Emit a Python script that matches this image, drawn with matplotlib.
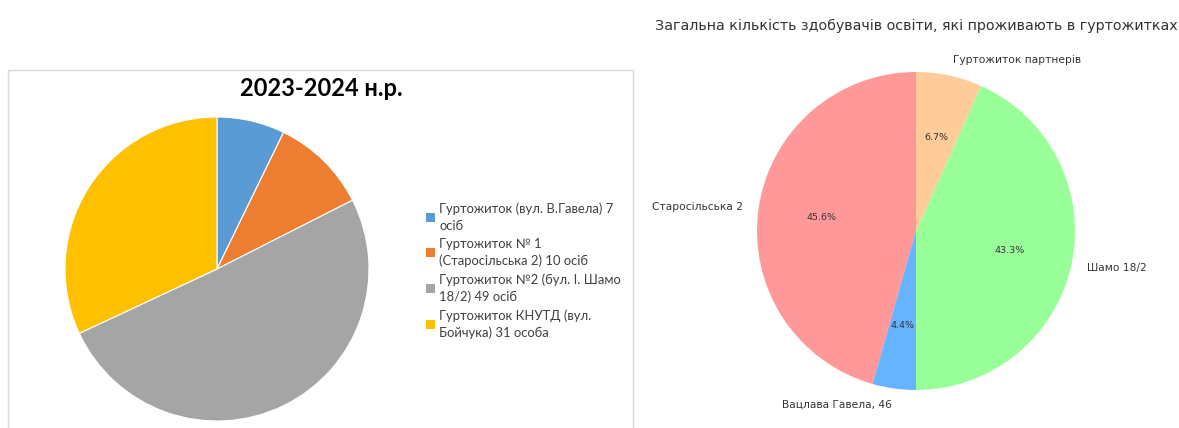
import matplotlib
matplotlib.use("Agg")
import matplotlib.pyplot as plt
from matplotlib.patches import Rectangle

# Left chart data (2023-2024)
left_title = "2023-2024 н.р."
left_labels = [
    ["Гуртожиток (вул. В.Гавела) 7", "осіб"],
    ["Гуртожиток № 1", "(Старосільська 2) 10 осіб"],
    ["Гуртожиток №2 (бул. І. Шамо", "18/2) 49 осіб"],
    ["Гуртожиток КНУТД (вул.", "Бойчука) 31 особа"],
]
left_values = [7, 10, 49, 31]
left_colors = ["#5b9bd5", "#ed7d31", "#a5a5a5", "#ffc000"]

# Right chart data
right_title = "Загальна кількість здобувачів освіти, які проживають в гуртожитках"
right_labels = ["Старосільська 2", "Вацлава Гавела, 46", "Шамо 18/2", "Гуртожиток партнерів"]
right_values = [477, 46, 453, 70]
right_colors = ["#ff9999", "#66b3ff", "#99ff99", "#ffcc99"]

W, H = 1179, 428
fig = plt.figure(figsize=(W / 100, H / 100), dpi=100)
fig.patch.set_facecolor("white")

def fx(px):
    return px / W

def fy(py):
    return 1 - py / H

# Excel-like frame for left chart
fig.patches.append(Rectangle((fx(8), fy(440)), fx(633) - fx(8), fy(70) - fy(440),
                             transform=fig.transFigure, fill=False,
                             edgecolor="#d9d9d9", linewidth=1))

# Left pie
cx, cy, r = 217, 269, 152
axL = fig.add_axes([fx(cx - r), fy(cy + r), 2 * r / W, 2 * r / H])
axL.pie(left_values, colors=left_colors, startangle=90, counterclock=False,
        wedgeprops=dict(edgecolor="white", linewidth=0.8))
axL.set_xlim(-1, 1)
axL.set_ylim(-1, 1)
axL.set_aspect("equal")
axL.axis("off")

fig.text(fx(321), fy(88), left_title, ha="center", va="center",
         fontsize=17, fontweight="bold", family=["Lato", "DejaVu Sans"], color="black")

# Excel-style legend
lfont = dict(family=["Lato", "DejaVu Sans"], size=9.4, color="#404040")
for i, (lines, col) in enumerate(zip(left_labels, left_colors)):
    c = 217 + 35.7 * i
    fig.patches.append(Rectangle((fx(426), fy(c + 4.5)), 9 / W, 9 / H,
                                 transform=fig.transFigure, facecolor=col,
                                 edgecolor="none"))
    for j, line in enumerate(lines):
        yy = c - 8.5 + 17 * j
        fig.text(fx(439), fy(yy), line, ha="left", va="center", **lfont)

# Right pie
cx2, cy2, r2 = 916, 231, 159
axR = fig.add_axes([fx(cx2 - r2), fy(cy2 + r2), 2 * r2 / W, 2 * r2 / H])
wedges, texts, autotexts = axR.pie(right_values, labels=right_labels, colors=right_colors,
                                   autopct="%1.1f%%", startangle=90,
                                   textprops=dict(color="#333333", fontsize=7.7))
for t in autotexts:
    t.set_fontsize(6.8)
axR.set_xlim(-1, 1)
axR.set_ylim(-1, 1)
axR.set_aspect("equal")
axR.axis("off")

fig.text(fx(916), fy(26), right_title, ha="center", va="center",
         fontsize=10.3, color="#333333")

fig.savefig("out.png", dpi=100)
